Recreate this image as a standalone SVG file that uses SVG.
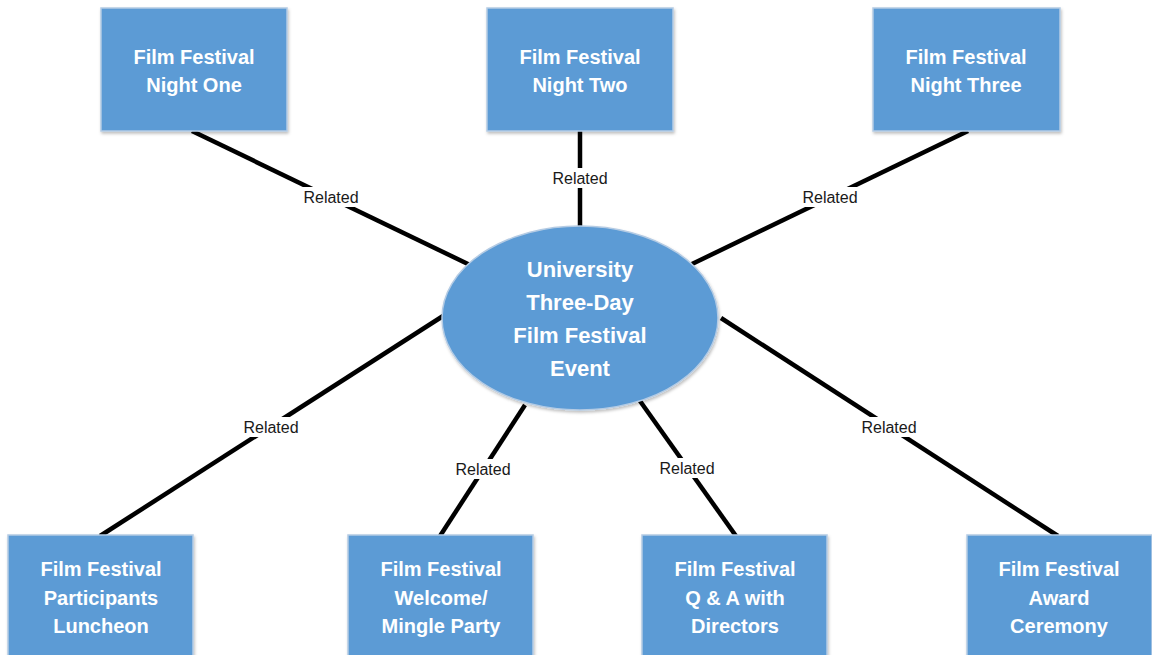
<svg xmlns="http://www.w3.org/2000/svg" width="1152" height="655" viewBox="0 0 1152 655">
<defs>
<filter id="sh" x="-10%" y="-10%" width="125%" height="125%">
<feDropShadow dx="1" dy="2" stdDeviation="1.5" flood-color="#000" flood-opacity="0.25"/>
</filter>
</defs>
<style>
.box{fill:#5B9BD5;stroke:#B4CBE4;stroke-width:1.5;filter:url(#sh)}
.ell{fill:#5B9BD5;stroke:#B4CBE4;stroke-width:1.5;filter:url(#sh)}
.t{font-family:"Liberation Sans",Arial,sans-serif;font-weight:bold;font-size:20px;fill:#fff;text-anchor:middle}
.e{font-family:"Liberation Sans",Arial,sans-serif;font-weight:bold;font-size:22px;fill:#fff;text-anchor:middle}
.c{stroke:#000;stroke-width:4.5;fill:none}
.lb{fill:#fff}
.l{font-family:"Liberation Sans",Arial,sans-serif;font-size:16px;fill:#1a1a1a;text-anchor:middle}
</style>
<rect width="1152" height="655" fill="#fff"/>
<g id="connectors">
<line class="c" x1="192" y1="131" x2="470" y2="265"/>
<line class="c" x1="580" y1="131" x2="580" y2="226"/>
<line class="c" x1="968" y1="131" x2="692" y2="264"/>
<line class="c" x1="100" y1="536" x2="443" y2="316"/>
<line class="c" x1="440" y1="536" x2="525" y2="405"/>
<line class="c" x1="736" y1="536" x2="640" y2="401"/>
<line class="c" x1="1058" y1="536" x2="721" y2="318"/>
<rect class="lb" x="298" y="187" width="66" height="20"/>
<text class="l" x="331" y="203">Related</text>
<rect class="lb" x="547" y="168" width="66" height="20"/>
<text class="l" x="580" y="184">Related</text>
<rect class="lb" x="797" y="187" width="66" height="20"/>
<text class="l" x="830" y="203">Related</text>
<rect class="lb" x="238" y="417" width="66" height="20"/>
<text class="l" x="271" y="433">Related</text>
<rect class="lb" x="450" y="459" width="66" height="20"/>
<text class="l" x="483" y="475">Related</text>
<rect class="lb" x="654" y="458" width="66" height="20"/>
<text class="l" x="687" y="474">Related</text>
<rect class="lb" x="856" y="417" width="66" height="20"/>
<text class="l" x="889" y="433">Related</text>
</g>
<g id="center">
<ellipse class="ell" cx="580" cy="318" rx="138" ry="92"/>
<text class="e" x="580" y="277">University</text>
<text class="e" x="580" y="310">Three-Day</text>
<text class="e" x="580" y="343">Film Festival</text>
<text class="e" x="580" y="376">Event</text>
</g>
<g id="night1">
<rect class="box" x="101" y="8" width="186" height="123"/>
<text class="t" x="194" y="64">Film Festival</text>
<text class="t" x="194" y="92">Night One</text>
</g>
<g id="night2">
<rect class="box" x="487" y="8" width="186" height="123"/>
<text class="t" x="580" y="64">Film Festival</text>
<text class="t" x="580" y="92">Night Two</text>
</g>
<g id="night3">
<rect class="box" x="873" y="8" width="187" height="123"/>
<text class="t" x="966" y="64">Film Festival</text>
<text class="t" x="966" y="92">Night Three</text>
</g>
<g id="luncheon">
<rect class="box" x="8" y="535" width="185" height="125"/>
<text class="t" x="101" y="576">Film Festival</text>
<text class="t" x="101" y="605">Participants</text>
<text class="t" x="101" y="633">Luncheon</text>
</g>
<g id="welcome">
<rect class="box" x="348" y="535" width="185" height="125"/>
<text class="t" x="441" y="576">Film Festival</text>
<text class="t" x="441" y="605">Welcome/</text>
<text class="t" x="441" y="633">Mingle Party</text>
</g>
<g id="qa">
<rect class="box" x="642" y="535" width="185" height="125"/>
<text class="t" x="735" y="576">Film Festival</text>
<text class="t" x="735" y="605">Q &amp; A with</text>
<text class="t" x="735" y="633">Directors</text>
</g>
<g id="award">
<rect class="box" x="967" y="535" width="185" height="125"/>
<text class="t" x="1059" y="576">Film Festival</text>
<text class="t" x="1059" y="605">Award</text>
<text class="t" x="1059" y="633">Ceremony</text>
</g>
</svg>
